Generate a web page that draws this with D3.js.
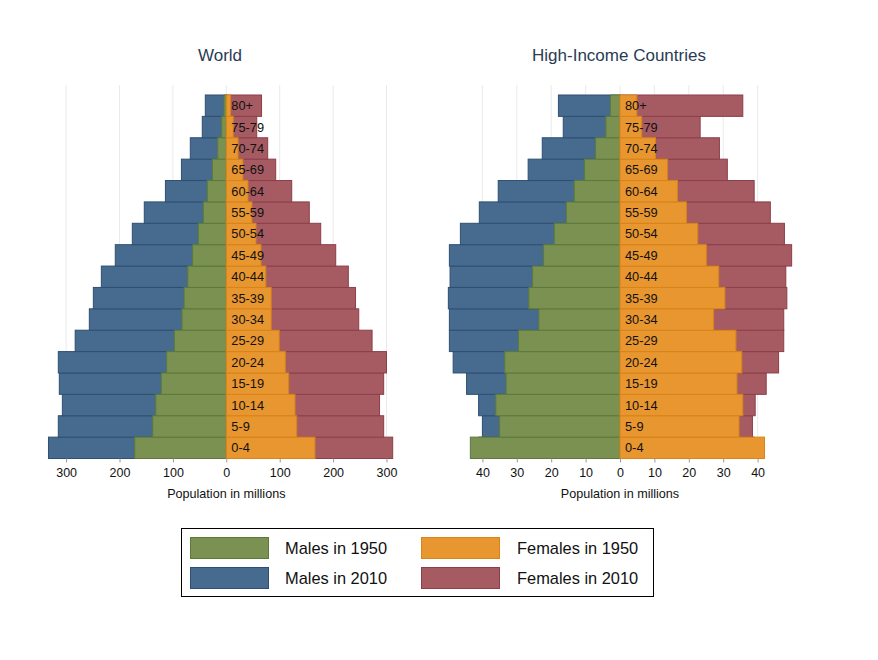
<!DOCTYPE html>
<html><head><meta charset="utf-8">
<script src="https://cdn.jsdelivr.net/npm/d3@7"></script>
<style>body{margin:0;background:#fff;} svg{display:block;font-family:"Liberation Sans",Arial,sans-serif;}</style>
</head><body>
<script>
const ages = ["0-4","5-9","10-14","15-19","20-24","25-29","30-34","35-39","40-44","45-49","50-54","55-59","60-64","65-69","70-74","75-79","80+"];

const worldMale1950   = [171.5,137.8,132,121.7,111.6,97,83,79,72,63,52.4,43,35.6,26,16,8.6,4.3];
const worldFemale1950 = [166,131.8,128.6,116.8,110.5,99,84,84,74,65,55.6,48,40.6,31,22,13,8];
const worldMale2010   = [333,314.6,307,312.7,314.6,283,256.5,249,234,207.9,176,153.6,114,84,67.4,45,39.3];
const worldFemale2010 = [311.6,294.7,287,294.7,300,273,248,242,228.5,204.9,176.8,155.4,122.5,92.5,77.5,57,66];

const hiMale1950   = [43.5,35,36.1,33.1,33.5,29.5,23.6,26.5,25.4,22.2,19.1,15.6,13.3,10.3,7.1,4.1,2.8];
const hiFemale1950 = [42,34.6,35.7,34,35.4,33.7,27.2,30.5,28.7,25.1,22.6,19.3,16.7,13.8,10.3,6.3,4.9];
const hiMale2010   = [41,40,41.1,44.6,48.5,49.6,49.6,49.9,49.4,49.6,46.4,40.9,35.4,26.7,22.6,16.5,17.9];
const hiFemale2010 = [39,38.5,39.3,42.5,46.1,47.6,47.6,48.5,48.2,49.9,47.8,43.7,39,31.2,28.9,23.3,35.7];

const worldTicks = [-300,-200,-100,0,100,200,300];
const hiTicks = [-40,-30,-20,-10,0,10,20,30,40];

const seriesNames = ["Males in 1950","Females in 1950","Males in 2010","Females in 2010"];
const fills   = {"Males in 1950":"#7a9152","Females in 1950":"#e8962f","Males in 2010":"#466b8f","Females in 2010":"#a65b63"};
const strokes = {"Males in 1950":"#5d7a3a","Females in 1950":"#d88419","Males in 2010":"#2e4f72","Females in 2010":"#8c3f49"};

const W = 878, H = 660;
const svg = d3.select("body").append("svg").attr("width",W).attr("height",H);

const y = d3.scaleBand().domain(ages.slice().reverse()).range([95, 458.5]).padding(0);

function panel(cfg){
  const x = d3.scaleLinear().domain(cfg.domain).range(cfg.range);
  const g = svg.append("g");
  g.selectAll("line.grid").data(cfg.ticks).join("line")
    .attr("x1",d=>x(d)).attr("x2",d=>x(d)).attr("y1",85).attr("y2",y.range()[1])
    .attr("stroke","#eaeaea").attr("stroke-width",1);
  const bars = [
    [cfg.m2010, -1, "Males in 2010"],
    [cfg.f2010, 1, "Females in 2010"],
    [cfg.m1950, -1, "Males in 1950"],
    [cfg.f1950, 1, "Females in 1950"]
  ];
  bars.forEach(([vals, sign, name])=>{
    g.append("g").selectAll("rect").data(vals).join("rect")
      .attr("x",(d)=> sign<0 ? x(-d) : x(0))
      .attr("width",d=> Math.abs(x(d)-x(0)))
      .attr("y",(d,i)=>y(ages[i]))
      .attr("height",y.bandwidth())
      .attr("fill",fills[name]).attr("stroke",strokes[name]).attr("stroke-width",1);
  });
  g.selectAll("text.age").data(ages).join("text")
    .attr("x",x(0)+5).attr("y",d=>y(d)+y.bandwidth()/2+4.5)
    .attr("font-size",12.8).attr("fill","#111").text(d=>d);
  const axis = d3.axisBottom(x).tickValues(cfg.ticks).tickFormat(d=>Math.abs(d)).tickSize(4).tickPadding(6);
  const ax = g.append("g").attr("transform",`translate(0,${y.range()[1]})`).call(axis);
  ax.select(".domain").remove();
  ax.selectAll(".tick line").attr("stroke","#999");
  ax.selectAll(".tick text").attr("font-size",12.5).attr("fill","#111").attr("font-family","Liberation Sans, Arial, sans-serif");
  g.append("text").attr("x",x(0)).attr("y",498).attr("text-anchor","middle")
    .attr("font-size",12.6).attr("fill","#111").text("Population in millions");
  g.append("text").attr("x",cfg.titleX).attr("y",61).attr("text-anchor","middle")
    .attr("font-size",17).attr("fill","#2a3b55").text(cfg.title);
}

panel({title:"World", titleX:220, domain:[-350,350], range:[226.3-186.9,226.3+186.9], ticks:worldTicks,
  m1950:worldMale1950, f1950:worldFemale1950, m2010:worldMale2010, f2010:worldFemale2010});
panel({title:"High-Income Countries", titleX:619, domain:[-50,50], range:[620-172,620+172], ticks:hiTicks,
  m1950:hiMale1950, f1950:hiFemale1950, m2010:hiMale2010, f2010:hiFemale2010});

const lg = svg.append("g");
lg.append("rect").attr("x",181.5).attr("y",528.5).attr("width",472).attr("height",68)
  .attr("fill","#fff").attr("stroke","#000").attr("stroke-width",1);
const legendItems = [
  {name:"Males in 1950", col:0, row:0},
  {name:"Females in 1950", col:1, row:0},
  {name:"Males in 2010", col:0, row:1},
  {name:"Females in 2010", col:1, row:1}
];
legendItems.forEach(it=>{
  const sx = it.col===0 ? 190.5 : 421.5;
  const sy = it.row===0 ? 537.5 : 567.5;
  lg.append("rect").attr("x",sx).attr("y",sy).attr("width",78).attr("height",21)
    .attr("fill",fills[it.name]).attr("stroke",strokes[it.name]).attr("stroke-width",1);
  lg.append("text").attr("x",it.col===0?285:517).attr("y",sy+16.5)
    .attr("font-size",16.4).attr("fill","#111").text(it.name);
});
</script>
</body></html>
